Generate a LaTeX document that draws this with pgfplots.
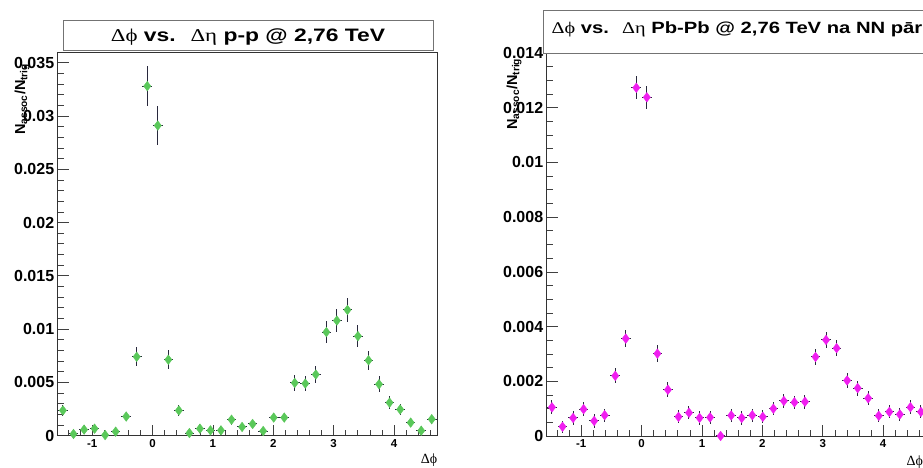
\documentclass[border=0pt]{standalone}
\usepackage{fontspec}
\setmainfont{Liberation Sans}
\newfontfamily\greek{Liberation Serif}
\usepackage{pgfplots}
\usepackage{pgfplotstable}
\pgfplotsset{compat=1.18}

\definecolor{rgreen}{RGB}{90,200,90}
\definecolor{rmag}{RGB}{240,30,240}
\definecolor{ebar}{RGB}{40,40,60}

% x = bin centre, y = N_assoc/N_trig, ex/ey = errors
\pgfplotstableread{
x      y        ex    ey
-1.484 0.00237  0.08  0.00055
-1.309 0.00016  0.08  0.0004
-1.134 0.00057  0.08  0.0004
-0.960 0.00066  0.08  0.0004
-0.785 0.00006  0.08  0.0004
-0.611 0.00038  0.08  0.0004
-0.436 0.00180  0.08  0.00045
-0.262 0.00740  0.08  0.0009
-0.087 0.03280  0.08  0.0019
 0.087 0.02910  0.08  0.0018
 0.262 0.00713  0.08  0.0009
 0.436 0.00237  0.08  0.00052
 0.611 0.00025  0.08  0.0004
 0.785 0.00066  0.08  0.0004
 0.960 0.00050  0.08  0.0004
 1.134 0.00050  0.08  0.0004
 1.309 0.00150  0.08  0.00045
 1.484 0.00082  0.08  0.0004
 1.658 0.00110  0.08  0.0004
 1.833 0.00044  0.08  0.0004
 2.007 0.00170  0.08  0.00045
 2.182 0.00170  0.08  0.00045
 2.356 0.00495  0.08  0.00074
 2.531 0.00489  0.08  0.00073
 2.705 0.00574  0.08  0.0008
 2.880 0.00972  0.08  0.00104
 3.054 0.01080  0.08  0.00109
 3.229 0.01180  0.08  0.00114
 3.403 0.00934  0.08  0.00101
 3.578 0.00707  0.08  0.00088
 3.752 0.00483  0.08  0.00073
 3.927 0.00310  0.08  0.00058
 4.102 0.00246  0.08  0.00052
 4.276 0.00123  0.08  0.0004
 4.451 0.00047  0.08  0.0004
 4.625 0.00155  0.08  0.00042
}\datapp

\pgfplotstableread{
x      y        ex    ey
-1.484 0.00105  0.08  0.00025
-1.309 0.00034  0.08  0.00022
-1.134 0.00066  0.08  0.00024
-0.960 0.00098  0.08  0.00025
-0.785 0.00055  0.08  0.00024
-0.611 0.00076  0.08  0.00024
-0.436 0.00220  0.08  0.00028
-0.262 0.00356  0.08  0.0003
-0.087 0.01273  0.08  0.00042
 0.087 0.01238  0.08  0.00042
 0.262 0.00301  0.08  0.0003
 0.436 0.00169  0.08  0.00027
 0.611 0.00070  0.08  0.00024
 0.785 0.00085  0.08  0.00024
 0.960 0.00066  0.08  0.00024
 1.134 0.00068  0.08  0.00024
 1.309 0.00000  0.08  0.0
 1.484 0.00075  0.08  0.00024
 1.658 0.00066  0.08  0.00024
 1.833 0.00076  0.08  0.00024
 2.007 0.00070  0.08  0.00024
 2.182 0.00100  0.08  0.00025
 2.356 0.00128  0.08  0.00025
 2.531 0.00123  0.08  0.00025
 2.705 0.00125  0.08  0.00025
 2.880 0.00289  0.08  0.0003
 3.054 0.00351  0.08  0.0003
 3.229 0.00321  0.08  0.0003
 3.403 0.00203  0.08  0.00027
 3.578 0.00175  0.08  0.00027
 3.752 0.00138  0.08  0.00025
 3.927 0.00074  0.08  0.00024
 4.102 0.00088  0.08  0.00024
 4.276 0.00079  0.08  0.00024
 4.451 0.00105  0.08  0.00025
 4.625 0.00088  0.08  0.00024
}\datapbpb

\pgfplotsset{
  rootax/.style={
    scale only axis,
    xmin=-1.5708, xmax=4.7124, ymin=0,
    axis line style={black!80, line width=0.8pt},
    tick align=inside,
    xtick pos=lower, ytick pos=lower,
    major tick length=11pt, minor tick length=6pt,
    tick style={black!75, line width=0.7pt},
    xtick={-1,0,1,2,3,4}, xticklabels={-1,0,1,2,3,4},
    minor xtick={-1.4,-1.2,-0.8,-0.6,-0.4,-0.2,0.2,0.4,0.6,0.8,1.2,1.4,1.6,1.8,
                 2.2,2.4,2.6,2.8,3.2,3.4,3.6,3.8,4.2,4.4,4.6},
    x tick label style={font=\fontsize{11.5}{12}\selectfont\bfseries},
    y tick label style={font=\fontsize{16}{17}\selectfont\bfseries},
    yticklabel style={/pgf/number format/fixed, /pgf/number format/precision=3,
                      /pgf/number format/assume math mode=true},
    scaled y ticks=false,
    xlabel={{\greek\fontsize{14}{14}\selectfont Δϕ}},
    ylabel={\fontsize{14.5}{14.5}\selectfont\bfseries N\textsubscript{assoc}/N\textsubscript{trig}},
  },
  rootpts/.style={
    only marks, mark=diamond*, mark size=4.8pt, color=#1,
    mark options={draw=none, fill=#1},
    error bars/.cd, x dir=both, x explicit, y dir=both, y explicit,
    error mark=none, error bar style={ebar, line width=1pt},
  },
}

\begin{document}
\begin{tikzpicture}
  \useasboundingbox (0,0) rectangle (923pt,468pt);

  % p-p
  \begin{axis}[rootax,
    at={(57.7pt,32.3pt)}, anchor=south west,
    width=379.3pt, height=383.7pt, ymax=0.0360,
    ytick={0,0.005,0.01,0.015,0.02,0.025,0.03,0.035},
    minor ytick={0.001,0.002,0.003,0.004,0.006,0.007,0.008,0.009,0.011,0.012,0.013,0.014,
                 0.016,0.017,0.018,0.019,0.021,0.022,0.023,0.024,0.026,0.027,0.028,0.029,
                 0.031,0.032,0.033,0.034},
    xlabel style={at={(axis description cs:0.979,-0.063)}, anchor=center},
    ylabel style={at={(axis description cs:-0.094,0.979)}, anchor=east},
  ]
    \addplot[rootpts=rgreen] table[x=x, y=y, x error=ex, y error=ey] {\datapp};
  \end{axis}

  % Pb-Pb
  \begin{axis}[rootax,
    at={(546.7pt,32pt)}, anchor=south west,
    width=379.5pt, height=383pt, ymax=0.0140,
    ytick={0,0.002,0.004,0.006,0.008,0.01,0.012,0.014},
    minor ytick={0.0005,0.001,0.0015,0.0025,0.003,0.0035,0.0045,0.005,0.0055,
                 0.0065,0.007,0.0075,0.0085,0.009,0.0095,0.0105,0.011,0.0115,
                 0.0125,0.013,0.0135},
    xlabel style={at={(axis description cs:0.97,-0.067)}, anchor=center},
    ylabel style={at={(axis description cs:-0.086,0.995)}, anchor=east},
  ]
    \addplot[rootpts=rmag] table[x=x, y=y, x error=ex, y error=ey] {\datapbpb};
  \end{axis}

  % title boxes
  \draw[black!55, line width=0.9pt, fill=white] (63.3pt,418pt) rectangle (433.3pt,447.3pt);
  \node[anchor=base, xscale=1.27, inner sep=0pt, font=\fontsize{18}{18}\selectfont\bfseries]
    at (248pt,426.3pt) {{\greek\mdseries Δϕ} vs. \ {\greek\mdseries Δη} p-p @ 2,76 TeV};
  \draw[black!55, line width=0.9pt, fill=white] (543pt,414.7pt) rectangle (935pt,458pt);
  \node[anchor=base, xscale=1.24, inner sep=0pt, font=\fontsize{16.3}{16.3}\selectfont\bfseries]
    at (737pt,434.7pt) {{\greek\mdseries Δϕ} vs. \ {\greek\mdseries Δη} Pb-Pb @ 2,76 TeV na NN pār};
\end{tikzpicture}
\end{document}
